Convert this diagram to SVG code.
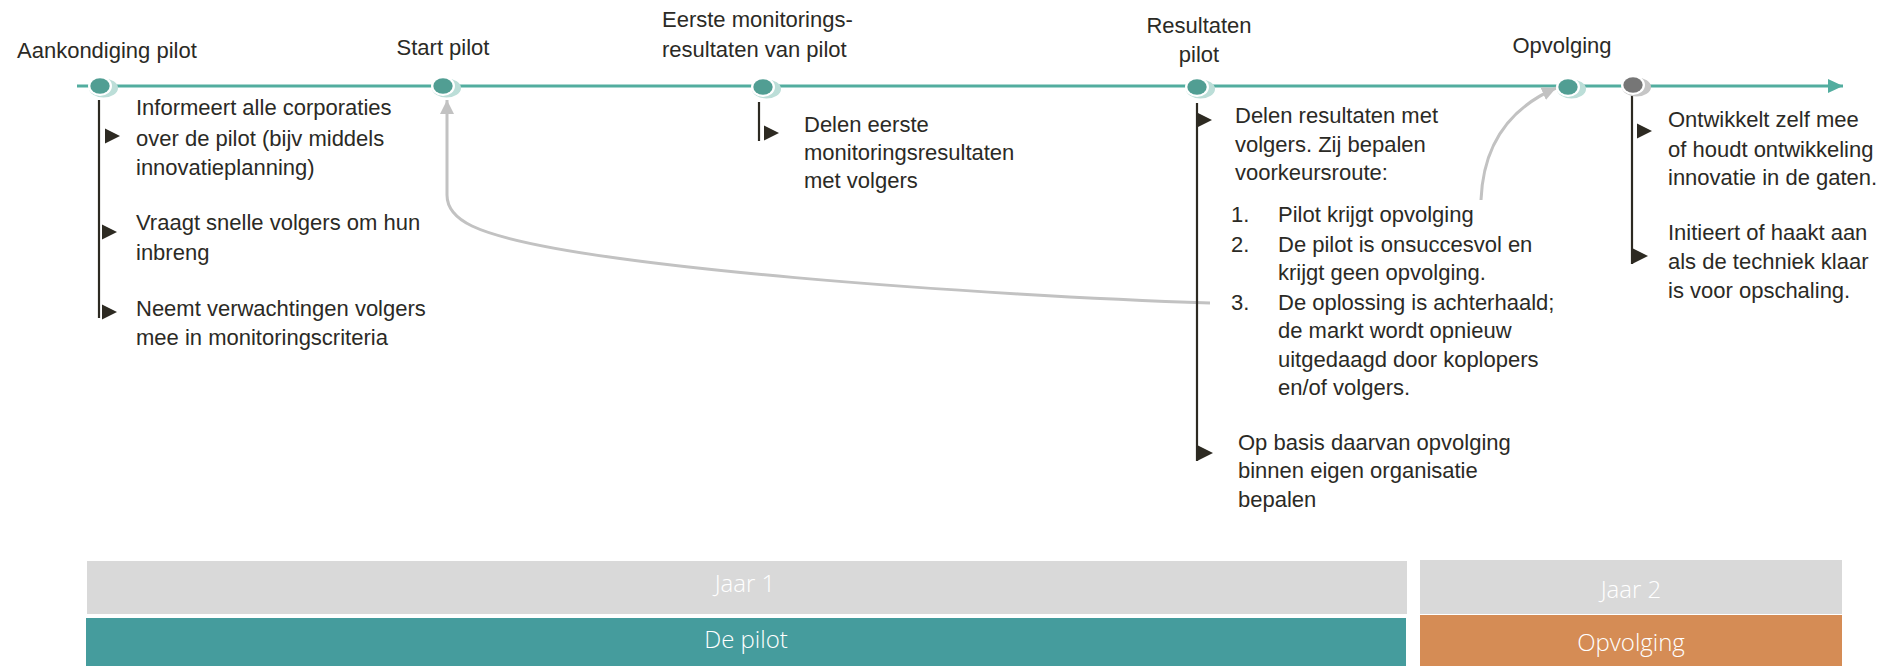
<svg xmlns="http://www.w3.org/2000/svg" width="1886" height="666" viewBox="0 0 1886 666">
<style>
text{font-family:"Liberation Sans",Arial,sans-serif;font-size:22px;fill:#2b2a25}
.c{text-anchor:middle}
.bar{font-family:"Open Sans","Liberation Sans",sans-serif;font-weight:300;font-size:24px;fill:#fff;text-anchor:middle}
.stem{stroke:#2d2a22;stroke-width:2.2;fill:none}
.axis{stroke:#52ad9f;stroke-width:3;fill:none}
.back{stroke:#c2c2c2;stroke-width:3;fill:none}
</style>
<defs>
<path id="tri" d="M0,-7.5 L15,0 L0,7.5 Z" fill="#2d2a22"/>
<g id="dotT">
<ellipse cx="3.5" cy="2" rx="14.5" ry="9.5" fill="#bcded8"/>
<ellipse cx="0" cy="0" rx="12" ry="10" fill="#fff"/>
<ellipse cx="0" cy="0" rx="9.7" ry="7.8" fill="#519e93"/>
</g>
<g id="dotG">
<ellipse cx="3.5" cy="2" rx="14.5" ry="9.5" fill="#c6c6c6"/>
<ellipse cx="0" cy="0" rx="12" ry="10" fill="#fff"/>
<ellipse cx="0" cy="0" rx="9.7" ry="7.8" fill="#767676"/>
</g>
<marker id="ahT" markerWidth="16" markerHeight="16" refX="15" refY="7" orient="auto" markerUnits="userSpaceOnUse">
<path d="M0,0 L15,7 L0,14 Z" fill="#52ad9f"/>
</marker>
<marker id="ahG" markerWidth="16" markerHeight="16" refX="14" refY="7" orient="auto" markerUnits="userSpaceOnUse">
<path d="M0,0 L14,7 L0,14 Z" fill="#c2c2c2"/>
</marker>
</defs>

<g id="connectors">
<path class="axis" d="M77,86 L1843,86" marker-end="url(#ahT)"/>
<path class="back" d="M1210,303 C1000,296 560,268 472,226 Q447,214 447,195 L447,100" marker-end="url(#ahG)"/>
<path class="back" d="M1481,200 C1483,150 1505,110 1556,88" marker-end="url(#ahG)"/>
</g>

<g id="node-aankondiging">
<text x="17" y="58">Aankondiging pilot</text>
<line class="stem" x1="99" y1="100" x2="99" y2="318"/>
<use href="#tri" x="105" y="136"/>
<use href="#tri" x="102" y="232"/>
<use href="#tri" x="102" y="312"/>
<text x="136" y="115">Informeert alle corporaties</text>
<text x="136" y="146">over de pilot (bijv middels</text>
<text x="136" y="175">innovatieplanning)</text>
<text x="136" y="230">Vraagt snelle volgers om hun</text>
<text x="136" y="260">inbreng</text>
<text x="136" y="316">Neemt verwachtingen volgers</text>
<text x="136" y="345">mee in monitoringscriteria</text>
<use href="#dotT" x="100" y="86"/>
</g>

<g id="node-start">
<text class="c" x="443" y="55">Start pilot</text>
<use href="#dotT" x="443" y="86"/>
</g>

<g id="node-eerste">
<text x="662" y="27">Eerste monitorings-</text>
<text x="662" y="57">resultaten van pilot</text>
<line class="stem" x1="759" y1="102" x2="759" y2="141"/>
<use href="#tri" x="764" y="133"/>
<text x="804" y="132">Delen eerste</text>
<text x="804" y="160">monitoringsresultaten</text>
<text x="804" y="188">met volgers</text>
<use href="#dotT" x="763" y="87"/>
</g>

<g id="node-resultaten">
<text class="c" x="1199" y="33">Resultaten</text>
<text class="c" x="1199" y="62">pilot</text>
<line class="stem" x1="1197" y1="103" x2="1197" y2="461"/>
<use href="#tri" x="1197" y="120"/>
<use href="#tri" x="1198" y="453"/>
<text x="1235" y="123">Delen resultaten met</text>
<text x="1235" y="152">volgers. Zij bepalen</text>
<text x="1235" y="180">voorkeursroute:</text>
<text x="1231" y="222">1.</text>
<text x="1278" y="222">Pilot krijgt opvolging</text>
<text x="1231" y="252">2.</text>
<text x="1278" y="252">De pilot is onsuccesvol en</text>
<text x="1278" y="280">krijgt geen opvolging.</text>
<text x="1231" y="310">3.</text>
<text x="1278" y="310">De oplossing is achterhaald;</text>
<text x="1278" y="338">de markt wordt opnieuw</text>
<text x="1278" y="367">uitgedaagd door koplopers</text>
<text x="1278" y="395">en/of volgers.</text>
<text x="1238" y="450">Op basis daarvan opvolging</text>
<text x="1238" y="478">binnen eigen organisatie</text>
<text x="1238" y="507">bepalen</text>
<use href="#dotT" x="1197" y="87"/>
</g>

<g id="node-opvolging">
<text class="c" x="1562" y="53">Opvolging</text>
<use href="#dotT" x="1568" y="87"/>
</g>

<g id="node-ontwikkelt">
<line class="stem" x1="1632" y1="96" x2="1632" y2="264"/>
<use href="#tri" x="1637" y="131"/>
<use href="#tri" x="1633" y="256"/>
<text x="1668" y="127">Ontwikkelt zelf mee</text>
<text x="1668" y="157">of houdt ontwikkeling</text>
<text x="1668" y="185">innovatie in de gaten.</text>
<text x="1668" y="240">Initieert of haakt aan</text>
<text x="1668" y="269">als de techniek klaar</text>
<text x="1668" y="298">is voor opschaling.</text>
<use href="#dotG" x="1633" y="85"/>
</g>

<g id="bar-jaar1">
<rect x="87" y="561" width="1320" height="53" fill="#d9d9d9"/>
<text class="bar" x="745" y="592">Jaar 1</text>
</g>
<g id="bar-pilot">
<rect x="86" y="618" width="1320" height="48" fill="#459c9d"/>
<text class="bar" x="746" y="648">De pilot</text>
</g>
<g id="bar-jaar2">
<rect x="1420" y="560" width="422" height="54" fill="#d9d9d9"/>
<text class="bar" x="1631" y="598">Jaar 2</text>
</g>
<g id="bar-opvolging">
<rect x="1420" y="615" width="422" height="51" fill="#d58c55"/>
<text class="bar" x="1631" y="651">Opvolging</text>
</g>
</svg>
